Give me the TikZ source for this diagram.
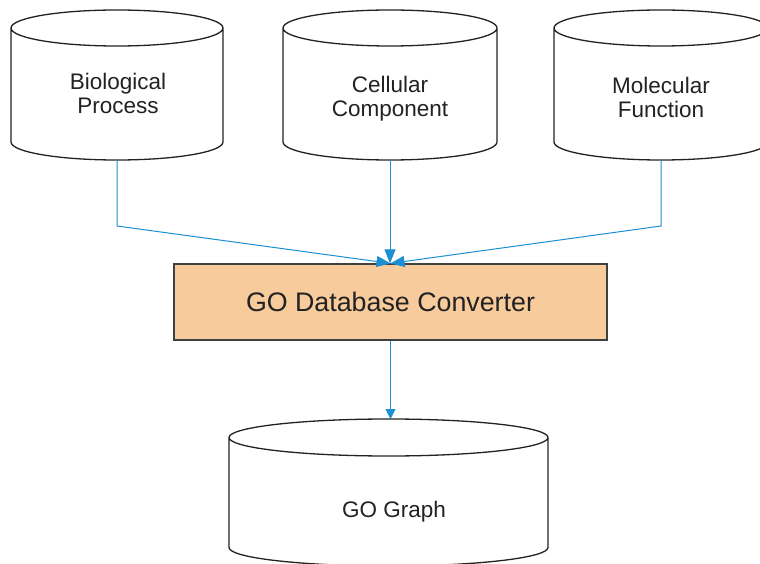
\documentclass[tikz,border=0pt]{standalone}
\usepackage{fontspec}
\setmainfont{Liberation Sans}
\usetikzlibrary{arrows.meta,calc}

\definecolor{flowblue}{HTML}{1B8FD2}
\definecolor{convfill}{HTML}{F7CB9B}
\definecolor{inkgray}{HTML}{222222}

% Outline of a database cylinder laid over an (undrawn) rectangular node
\newcommand\dbcylinder[2]{%
  \draw[cylline] let \p1=(#1.north west), \p2=(#1.south east) in
    (\x1,\y1-#2pt) -- (\x1,\y2+#2pt)
    arc[start angle=180,end angle=360,x radius={(\x2-\x1)/2},y radius={#2pt}]
    -- (\x2,\y1-#2pt)
    arc[start angle=0,end angle=180,x radius={(\x2-\x1)/2},y radius={#2pt}] -- cycle
    (\x1,\y1-#2pt) arc[start angle=180,end angle=360,x radius={(\x2-\x1)/2},y radius={#2pt}];
}

\begin{document}
\begin{tikzpicture}[x=1pt,y=1pt,
  cylbody/.style={rectangle,inner sep=0pt,outer sep=0pt},
  cylline/.style={draw=inkgray,line width=1.3pt,fill=white},
  dblabel/.style={align=center,text=inkgray,inner sep=0pt,
    font=\fontsize{22.5}{24}\selectfont},
  convbox/.style={rectangle,draw=black!75,line width=1.2pt,fill=convfill,
    text=inkgray,inner sep=0pt,font=\fontsize{26.8}{30}\selectfont},
  flow/.style={draw=flowblue,line width=1pt},
  bigtip/.style={-{Triangle[length=14pt,width=11pt]}},
  smalltip/.style={-{Triangle[length=10pt,width=10pt]}}
]
\useasboundingbox (0,0) rectangle (760,563);
\fill[white] (0,0) rectangle (760,563);
\clip (0,0) rectangle (760,563);

% the three source ontologies
\node[cylbody,minimum width=212pt,minimum height=150pt] (bp) at (117,478) {};
\node[cylbody,minimum width=214pt,minimum height=150pt] (cc) at (390,478) {};
\node[cylbody,minimum width=214pt,minimum height=150pt] (mf) at (661,478) {};
\dbcylinder{bp}{18}
\dbcylinder{cc}{18}
\dbcylinder{mf}{18}
\node[dblabel] (bplabel) at (118,469.5) {Biological\\Process};
\node[dblabel] (cclabel) at (390,464) {Cellular\\Component};
\node[dblabel] (mflabel) at (661,466) {Molecular\\Function};

% converter
\node[convbox,minimum width=433pt,minimum height=76pt] (conv) at (390.5,261)
  {GO Database Converter};

% resulting graph store
\node[cylbody,minimum width=319pt,minimum height=147pt] (gg) at (388.5,70.5) {};
\dbcylinder{gg}{18.5}
\node[dblabel] (gglabel) at (394,51.5) {GO Graph};

% connectors
\draw[flow,bigtip] (bp.south) -- ++(0,-66) -- (conv.north);
\draw[flow,bigtip] (mf.south) -- ++(0,-66) -- (conv.north);
\draw[flow,bigtip] (cc.south) -- (cc.south |- conv.north);
\draw[flow,smalltip] (conv.south) -- (conv.south |- gg.north);
\end{tikzpicture}
\end{document}
